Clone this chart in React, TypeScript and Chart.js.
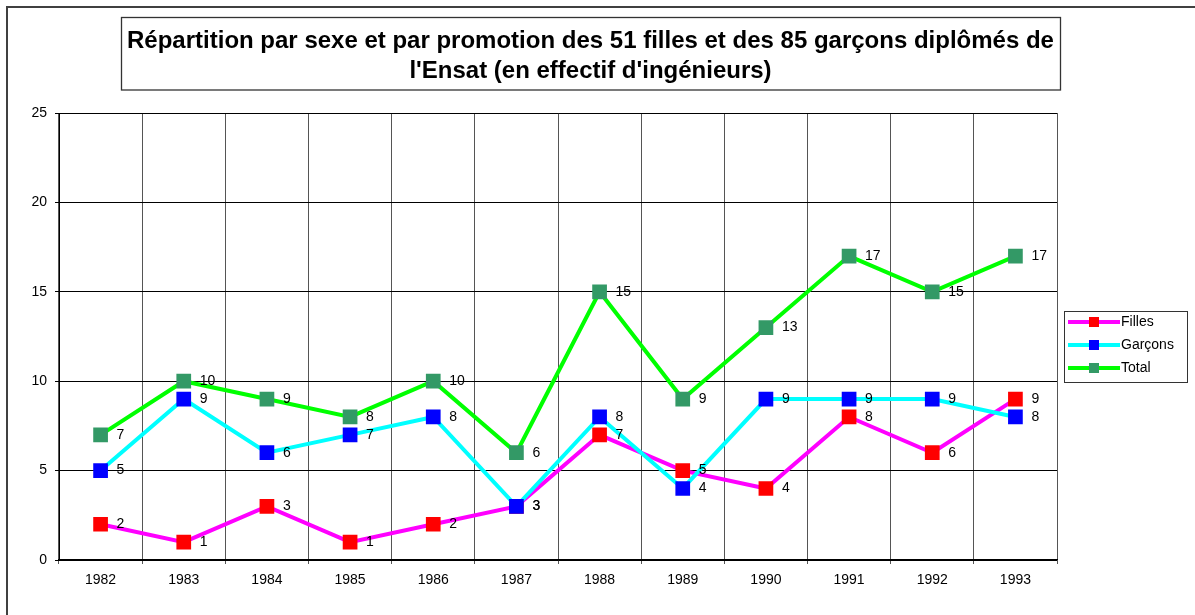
import React, { useEffect, useRef } from 'react';
import { Chart, registerables } from 'chart.js';

Chart.register(...registerables);

const years = ['1982', '1983', '1984', '1985', '1986', '1987', '1988', '1989', '1990', '1991', '1992', '1993'];
const filles = [2, 1, 3, 1, 2, 3, 7, 5, 4, 8, 6, 9];
const garcons = [5, 9, 6, 7, 8, 3, 8, 4, 9, 9, 9, 8];
const total = [7, 10, 9, 8, 10, 6, 15, 9, 13, 17, 15, 17];
const seriesNames = ['Filles', 'Garçons', 'Total'];
const lineColors = ['#FF00FF', '#00FFFF', '#00FF00'];
const markerColors = ['#FF0000', '#0000FF', '#339966'];
const titleLines = [
  'Répartition par sexe et par promotion des 51 filles et des 85 garçons diplômés de',
  "l'Ensat (en effectif d'ingénieurs)",
];
const yMin = 0;
const yMax = 25;
const yStep = 5;

const FONT = "'Liberation Sans', Arial, sans-serif";

function makeLegendIcon(lineColor: string, markerColor: string): HTMLCanvasElement {
  const c = document.createElement('canvas');
  c.width = 62;
  c.height = 12;
  const ctx = c.getContext('2d')!;
  ctx.fillStyle = lineColor;
  ctx.fillRect(9, 4, 52, 4);
  ctx.fillStyle = markerColor;
  ctx.fillRect(30, 1, 10, 10);
  return c;
}

const decorPlugin = {
  id: 'decor',
  afterLayout(chart: any) {
    const lg = chart.legend;
    if (lg) {
      const h = lg.bottom - lg.top;
      lg.top = 300;
      lg.bottom = 300 + h;
    }
  },
  afterDatasetsDraw(chart: any) {
    const ctx = chart.ctx;
    ctx.save();
    ctx.font = `14px ${FONT}`;
    ctx.fillStyle = '#000';
    ctx.textBaseline = 'middle';
    ctx.textAlign = 'left';
    chart.data.datasets.forEach((ds: any, i: number) => {
      const meta = chart.getDatasetMeta(i);
      meta.data.forEach((pt: any, j: number) => {
        ctx.fillText(String(ds.data[j]), pt.x + 16, pt.y);
      });
    });
    ctx.restore();
  },
  afterDraw(chart: any) {
    const ctx = chart.ctx;
    ctx.save();
    // outer frame (top and left visible)
    ctx.fillStyle = '#404040';
    ctx.fillRect(0, 0, 2, chart.height);
    ctx.fillRect(0, 0, chart.width, 2);
    // title box
    ctx.strokeStyle = '#333';
    ctx.lineWidth = 1.3;
    ctx.strokeRect(115.5, 11.5, 939, 72.5);
    // legend box
    ctx.lineWidth = 1;
    ctx.strokeRect(1058.5, 305.5, 123, 71);
    ctx.restore();
  },
};

export default function App() {
  const ref = useRef<HTMLCanvasElement>(null);

  useEffect(() => {
    if (!ref.current) return;
    const icons = seriesNames.map((_, i) => makeLegendIcon(lineColors[i], markerColors[i]));
    const seriesData = [filles, garcons, total];
    const chart = new Chart(ref.current, {
      type: 'line',
      data: {
        labels: years,
        datasets: seriesNames.map((name, i) => ({
          label: name,
          data: seriesData[i],
          borderColor: lineColors[i],
          backgroundColor: markerColors[i],
          borderWidth: 4,
          tension: 0,
          fill: false,
          pointStyle: 'rect',
          pointRadius: 10.4,
          pointHoverRadius: 10.4,
          pointBackgroundColor: markerColors[i],
          pointBorderColor: markerColors[i],
          pointBorderWidth: 0,
          order: 3 - i,
        })),
      },
      options: {
        responsive: false,
        animation: false,
        devicePixelRatio: 1,
        layout: { padding: { left: 0, right: 20, top: 0, bottom: 0 } },
        plugins: {
          title: {
            display: true,
            text: titleLines,
            color: '#000',
            font: { family: FONT, size: 24, weight: 'bold', lineHeight: 1.25 },
            padding: { top: 20, bottom: 27 },
          },
          legend: {
            display: true,
            position: 'right',
            align: 'start',
            maxWidth: 118,
            labels: {
              usePointStyle: true,
              pointStyleWidth: 48,
              boxHeight: 14,
              padding: 9,
              color: '#000',
              font: { family: FONT, size: 14 },
              generateLabels: () =>
                seriesNames.map((name, i) => ({
                  text: name,
                  pointStyle: icons[i],
                  datasetIndex: i,
                  fillStyle: markerColors[i],
                  strokeStyle: lineColors[i],
                  lineWidth: 0,
                  hidden: false,
                  fontColor: '#000',
                })),
            },
          },
          tooltip: { enabled: false },
        },
        scales: {
          x: {
            type: 'category',
            offset: true,
            afterFit: (s: any) => {
              s.height = 55;
            },
            grid: {
              offset: true,
              color: '#555',
              lineWidth: 1,
              tickLength: 4,
              drawTicks: true,
            },
            border: { color: '#000', width: 1.5 },
            ticks: {
              color: '#000',
              font: { family: FONT, size: 14 },
              padding: 8,
              maxRotation: 0,
            },
          },
          y: {
            min: yMin,
            max: yMax,
            afterFit: (s: any) => {
              s.width = 53;
            },
            grid: { color: '#000', lineWidth: 1, tickLength: 4 },
            border: { color: '#000', width: 1 },
            ticks: {
              stepSize: yStep,
              color: '#000',
              font: { family: FONT, size: 14 },
              padding: 8,
            },
          },
        },
      },
      plugins: [decorPlugin],
    });
    return () => chart.destroy();
  }, []);

  return (
    <div style={{ position: 'absolute', left: 6, top: 6, width: 1189, height: 609 }}>
      <canvas ref={ref} width={1189} height={609} style={{ display: 'block', width: 1189, height: 609 }} />
    </div>
  );
}
